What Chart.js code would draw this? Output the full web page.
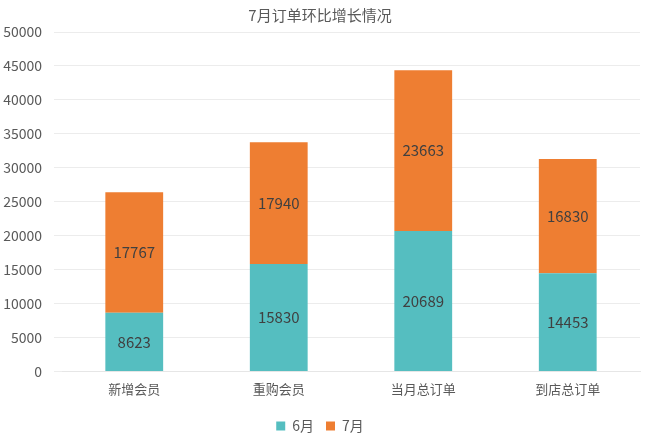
<!DOCTYPE html>
<html>
<head>
<meta charset="utf-8">
<script src="https://cdn.jsdelivr.net/npm/chart.js@4"></script>
<style>
  html, body { margin: 0; padding: 0; background: #fff; }
  #wrap { width: 650px; height: 448px; }
</style>
</head>
<body>
<div id="wrap"><canvas id="c"></canvas></div>
<script>
const categories = ['新增会员', '重购会员', '当月总订单', '到店总订单'];
const juneValues = [8623, 15830, 20689, 14453];
const julyValues = [17767, 17940, 23663, 16830];
const seriesNames = ['6月', '7月'];
const yTicks = [0, 5000, 10000, 15000, 20000, 25000, 30000, 35000, 40000, 45000, 50000];

const FONT = '"Noto Sans CJK SC", "Noto Sans", sans-serif';

// draw the value in the middle of each bar segment
const barLabels = {
  id: 'barLabels',
  afterDatasetsDraw(chart) {
    const ctx = chart.ctx;
    ctx.save();
    ctx.font = '15px ' + FONT;
    ctx.fillStyle = '#404040';
    ctx.textAlign = 'center';
    ctx.textBaseline = 'middle';
    chart.data.datasets.forEach((ds, i) => {
      chart.getDatasetMeta(i).data.forEach((bar, j) => {
        const mid = (bar.y + bar.base) / 2;
        ctx.fillText(String(ds.data[j]), bar.x, mid);
      });
    });
    ctx.restore();
  }
};

new Chart(document.getElementById('c'), {
  type: 'bar',
  data: {
    labels: categories,
    datasets: [
      { label: seriesNames[0], data: juneValues, backgroundColor: '#55bec0' },
      { label: seriesNames[1], data: julyValues, backgroundColor: '#ee7e32' }
    ]
  },
  options: {
    responsive: true,
    maintainAspectRatio: false,
    animation: false,
    layout: { padding: { left: 0, right: 10, top: 0, bottom: 5 } },
    datasets: { bar: { categoryPercentage: 1, barPercentage: 0.4 } },
    scales: {
      x: {
        stacked: true,
        grid: { display: false },
        border: { color: '#e6e6e6' },
        afterFit: s => { s.height += 8; },
        ticks: { color: '#595959', font: { family: FONT, size: 13 }, padding: 2 }
      },
      y: {
        stacked: true,
        min: 0,
        max: 50000,
        afterBuildTicks: s => { s.ticks = yTicks.map(v => ({ value: v })); },
        afterFit: s => { s.width = 62; },
        grid: { color: '#ececec' },
        border: { display: false },
        ticks: {
          color: '#595959',
          font: { family: FONT, size: 14 },
          padding: 12,
          callback: v => String(v)
        }
      }
    },
    plugins: {
      title: {
        display: true,
        text: '7月订单环比增长情况',
        color: '#595959',
        font: { family: FONT, size: 15, weight: 'normal' },
        padding: { top: 6, bottom: 8 }
      },
      legend: {
        position: 'bottom',
        labels: {
          color: '#595959',
          font: { family: FONT, size: 14 },
          boxWidth: 9,
          boxHeight: 9,
          padding: 12
        }
      },
      tooltip: { enabled: false }
    }
  },
  plugins: [barLabels]
});
</script>
</body>
</html>
